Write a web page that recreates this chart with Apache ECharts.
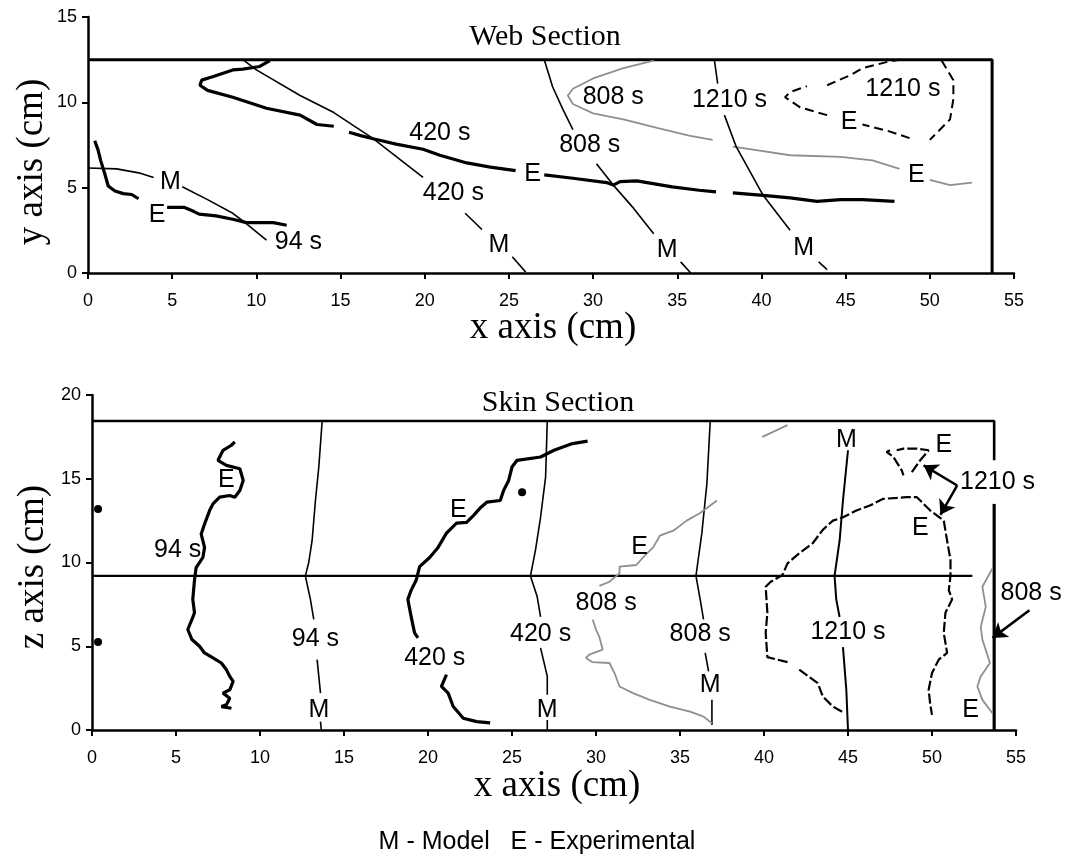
<!DOCTYPE html>
<html>
<head>
<meta charset="utf-8">
<script src="https://cdn.jsdelivr.net/npm/echarts@6/dist/echarts.min.js"></script>
<style>html,body{margin:0;padding:0;background:#fff}#c{width:1067px;height:854px}</style>
</head>
<body>
<div id="c"></div>
<script>
// ---------- axis ticks ----------
const xTicks = [0,5,10,15,20,25,30,35,40,45,50,55];
const yTicksWeb = [0,5,10,15];
const zTicksSkin = [0,5,10,15,20];

// ---------- Web section (x, y) ----------
const webBox = [[0,12.5],[53.7,12.5],[53.7,0]];
const m94Web = [[0,6.15],[1.7,6.1],[3.1,5.85],[3.9,5.6],null,[5.6,5.05],[7.1,4.3],[8.6,3.5],[9.4,2.9],[10.6,1.93]];
const e94Web = [[0.4,7.75],[0.6,7.2],[0.75,6.6],[1.0,5.8],[1.2,5.1],[1.6,4.8],[2.1,4.65],[2.6,4.6],[3.0,4.35],null,
  [4.7,3.85],[5.7,3.85],[6.3,3.6],[6.6,3.45],[7.6,3.35],[8.6,3.15],[9.4,2.95],[10.2,2.95],[11.0,2.95],[11.8,2.8]];
const e420Web = [[10.8,12.45],[10.2,12.1],[9.2,11.95],[8.6,11.9],[7.4,11.5],[6.75,11.3],[6.65,11.0],[7.1,10.7],[8.6,10.3],
  [10.6,9.65],[12.6,9.25],[13.6,8.7],[14.6,8.6],null,
  [15.5,8.25],[16.2,8.05],[17.0,7.85],[18.3,7.55],[19.9,7.25],[20.9,6.9],[22.5,6.45],[23.9,6.2],[25.4,6.0],null,
  [27.1,5.75],[28.8,5.55],[30.8,5.3],[31.2,5.15],[31.6,5.35],[32.6,5.4],[34.7,5.05],[36.3,4.85],[37.3,4.75],null,
  [38.3,4.7],[40.1,4.55],[41.7,4.4],[43.3,4.2],[44.7,4.3],[46.0,4.3],[47.9,4.2]];
const m420Web = [[9.2,12.5],[10.0,11.9],[12.6,10.4],[14.6,9.4],[16.9,7.9],[19.9,5.6],null,[22.4,3.5],[23.4,2.55],null,[25.2,0.95],[26.0,0.05]];
const m808Web = [[27.1,12.5],[27.6,10.9],[28.2,9.6],[28.8,8.4],null,[30.2,6.4],[31.2,5.15],[32.4,3.8],[33.6,2.3],null,[35.2,0.65],[35.8,0.0]];
const e808Web = [[33.6,12.45],[31.8,12.0],[30.0,11.4],[28.8,10.8],[28.5,10.4],[28.8,9.9],[30.0,9.35],[31.8,9.0],[33.8,8.5],[35.7,8.05],[37.1,7.8],null,
  [38.3,7.4],[39.7,7.2],[41.7,6.9],[44.7,6.8],[46.6,6.6],[48.2,6.1],null,[50.0,5.45],[51.2,5.15],[52.5,5.3]];
const m1210Web = [[37.2,12.5],[37.4,11.1],null,[37.8,9.25],[38.5,7.4],[40.1,4.55],[41.7,2.5],null,[43.4,0.65],[43.9,0.2]];
const e1210Web = [[48.8,7.9],[47.6,8.3],[46.0,8.7],null,[43.9,9.25],[42.3,9.7],[41.4,10.3],[41.7,10.6],[42.7,10.95],null,
  [43.9,11.0],[45.3,11.6],[46.0,12.0],[47.6,12.4],[48.2,12.5],null,
  [50.7,12.45],[51.4,11.3],[51.4,10.2],[51.2,9.0],[50.4,8.2],[50.0,7.8]];
const webLabels = [[4.9,5.3,'M'],[4.1,3.4,'E'],[12.5,1.8,'94 s'],[20.9,8.2,'420 s'],[21.7,4.7,'420 s'],[26.4,5.8,'E'],
  [24.4,1.65,'M'],[31.2,10.3,'808 s'],[29.8,7.5,'808 s'],[34.4,1.35,'M'],[38.1,10.15,'1210 s'],[48.4,10.8,'1210 s'],
  [45.2,8.85,'E'],[49.2,5.75,'E'],[42.5,1.45,'M']];

// ---------- Skin section (x, z) ----------
const skinBoxTop = [[0,18.45],[53.7,18.45],[53.7,16.1]];
const skinBoxRight = [[53.7,13.5],[53.7,0]];
const skinMid = [[0,9.2],[52.4,9.2]];
const m94Skin = [[13.7,18.45],[13.5,15.7],[13.3,13.7],[13.1,11.3],[12.9,10.0],[12.7,9.2],[13.0,7.8],[13.2,6.6],null,[13.4,4.2],[13.6,2.2],null,[13.6,0.5],[13.65,0]];
const e94Skin = [[8.5,17.2],[8.3,17.0],[7.8,16.7],[7.5,16.1],[8.0,15.8],[8.8,15.6],[9.0,14.9],[8.8,14.3],[8.5,13.9],[8.2,14.0],[7.6,13.9],
  [7.2,13.5],[7.0,13.1],[6.7,12.3],[6.5,11.7],[6.7,10.9],[6.6,10.3],[6.2,9.7],[6.1,8.95],[6.0,7.8],[6.1,7.0],[5.95,6.6],[5.7,6.0],
  [5.95,5.4],[6.4,5.0],[6.7,4.6],[7.2,4.3],[7.7,4.0],[8.0,3.6],[8.2,3.2],[8.4,2.9],[8.2,2.4],[7.8,2.2],[8.2,1.9],[8.0,1.5],[7.7,1.4],[8.3,1.3]];
const m420Skin = [[27.1,18.45],[27.0,15.1],[26.7,12.7],[26.4,10.75],[26.1,9.2],[26.5,7.95],[26.7,6.75],null,[26.7,4.9],[27.1,3.2],[27.1,2.1],null,[27.1,0.6],[27.1,0]];
const e420Skin = [[29.5,17.25],[28.6,17.1],[27.5,16.7],[26.7,16.3],[25.3,16.1],[25.0,15.7],[24.8,14.9],[24.5,14.3],[24.3,13.7],[23.5,13.6],
  [23.1,13.25],[22.7,12.8],[22.3,12.4],[21.7,12.35],[21.1,11.75],[20.6,10.9],[20.1,10.3],[19.5,9.75],[19.3,8.95],[19.0,8.35],[18.8,7.8],
  [19.0,6.75],[19.2,5.8],[19.4,5.5],null,[21.1,3.3],[20.8,2.6],[21.2,2.2],[21.5,1.4],[22.1,0.7],[22.9,0.5],[23.7,0.42]];
const m808Skin = [[36.8,18.45],[36.6,14.7],[36.3,11.75],[35.95,9.2],[36.2,7.8],[36.4,6.6],null,[36.5,4.6],[36.7,3.5],null,[36.9,1.8],[36.9,0.3]];
const e808Skin = [[30.2,8.6],[30.8,8.85],[31.4,9.35],[31.4,9.75],[32.4,9.85],[32.8,10.3],[33.4,10.9],[33.8,11.6],[34.6,11.9],[35.4,12.5],[36.2,12.95],[37.2,13.7],null,
  [39.9,17.5],[41.4,18.2],null,
  [29.8,6.6],[30.0,6.0],[30.2,5.55],[30.4,4.8],[29.6,4.5],[29.4,4.3],[29.8,4.05],[30.8,4.0],[31.1,3.4],[31.4,2.6],[32.2,2.2],[33.2,1.8],[34.4,1.4],[35.6,1.1],[36.4,0.8],[36.9,0.4]];
const e808Edge = [[53.6,9.65],[53.0,8.55],[53.2,7.35],[52.9,6.15],[53.0,5.4],[53.45,4.0],[52.9,3.2],[52.7,2.6],[53.0,1.8],[53.6,1.0]];
const m1210Skin = [[45.0,16.7],[44.7,13.7],[44.5,11.3],[44.2,9.2],[44.3,7.8],[44.5,6.75],null,[44.7,4.95],[44.9,2.4],[45.0,0]];
const e1210Skin = [[41.4,4.05],[40.2,4.35],[40.1,5.8],[40.2,7.0],[40.1,8.55],[40.4,8.85],[41.1,9.25],[41.4,9.95],[42.1,10.55],[42.9,11.15],
  [43.5,11.95],[44.1,12.5],[44.7,12.7],[45.5,13.1],[46.3,13.4],[47.1,13.8],[48.5,13.9],[49.1,13.9],[49.5,13.5],[49.9,13.1],[50.3,12.8],
  [50.7,12.5],[50.9,11.3],[51.1,10.15],[51.1,9.2],[51.0,8.35],[51.2,7.8],[50.8,7.0],[50.7,5.8],[50.9,4.6],[50.4,4.2],[50.0,3.4],[49.8,2.4],
  [49.9,1.5],[50.0,0.9],null,[42.1,3.6],[43.2,2.8],[43.5,2.0],[44.1,1.4],[44.8,1.0],null,
  [47.5,16.7],[47.3,16.6],[47.7,16.3],[48.2,15.5],[48.3,15.2],null,[48.8,15.4],[49.3,16.1],[49.8,16.7],[49.1,16.8],[48.3,16.8],[47.9,16.7]];
const skinDots = [[0.36,13.2],[0.36,5.25],[25.6,14.2]];
const skinArrows = [[[51.5,14.6],[49.5,15.8]],[[51.5,14.6],[50.5,12.85]],[[55.8,7.15],[53.6,5.5]]];
const skinLabels = [[8.0,14.9,'E'],[5.1,10.75,'94 s'],[13.3,5.4,'94 s'],[13.5,1.2,'M'],[21.8,13.1,'E'],[20.4,4.3,'420 s'],
  [26.7,5.7,'420 s'],[27.1,1.2,'M'],[32.6,10.9,'E'],[30.6,7.6,'808 s'],[36.2,5.7,'808 s'],[36.8,2.7,'M'],[44.9,17.3,'M'],
  [45.0,5.85,'1210 s'],[50.7,17.0,'E'],[53.9,14.8,'1210 s'],[49.3,12.05,'E'],[55.9,8.2,'808 s'],[52.3,1.2,'E']];

// ---------- build ----------
const SANS = '"Liberation Sans", Arial, sans-serif';
const SERIF = '"Liberation Serif", "Times New Roman", serif';
const series = [];
function addCurve(arr, g, style) {
  let seg = [];
  const flush = () => { if (seg.length > 1) series.push({
    type: 'line', xAxisIndex: g, yAxisIndex: g, data: seg, symbol: 'none', showSymbol: false,
    lineStyle: Object.assign({ color: '#000', width: 1.5, opacity: 1 }, style), silent: true, animation: false, clip: false, z: 3
  }); seg = []; };
  arr.forEach(p => { if (p === null) flush(); else seg.push(p); });
  flush();
}
const MODEL = { width: 1.6 };
const EXP = { width: 3.2 };
const GRAY = { color: '#8f8f8f', width: 1.8 };
const DASH = { width: 2, type: [9, 5] };

addCurve(webBox, 0, { width: 3 });
addCurve(m94Web, 0, MODEL); addCurve(e94Web, 0, EXP);
addCurve(m420Web, 0, MODEL); addCurve(e420Web, 0, EXP);
addCurve(m808Web, 0, MODEL); addCurve(e808Web, 0, GRAY);
addCurve(m1210Web, 0, MODEL); addCurve(e1210Web, 0, DASH);

addCurve(skinBoxTop, 1, { width: 2.6 });
addCurve(skinBoxRight, 1, { width: 3.2 });
addCurve(skinMid, 1, { width: 2.2 });
addCurve(m94Skin, 1, MODEL); addCurve(e94Skin, 1, EXP);
addCurve(m420Skin, 1, MODEL); addCurve(e420Skin, 1, EXP);
addCurve(m808Skin, 1, MODEL); addCurve(e808Skin, 1, GRAY); addCurve(e808Edge, 1, GRAY);
addCurve(m1210Skin, 1, { width: 2 }); addCurve(e1210Skin, 1, { width: 2.2, type: [10, 3] });

function addLabels(arr, g) {
  series.push({
    type: 'scatter', xAxisIndex: g, yAxisIndex: g, data: arr, symbolSize: 0, clip: false, silent: true, animation: false, z: 5,
    itemStyle: { opacity: 1 },
    label: { show: true, position: 'inside', formatter: p => p.data[2], color: '#000', fontSize: 25, fontFamily: SANS,
      textBorderWidth: 0, opacity: 1 }
  });
}
addLabels(webLabels, 0);
addLabels(skinLabels, 1);
series.push({ type: 'scatter', xAxisIndex: 1, yAxisIndex: 1, data: skinDots, symbolSize: 8,
  itemStyle: { color: '#000', opacity: 1 }, clip: false, silent: true, animation: false });
series.push({ type: 'lines', coordinateSystem: 'cartesian2d', xAxisIndex: 1, yAxisIndex: 1, clip: false, silent: true,
  animation: false, symbol: ['none', 'arrow'], symbolSize: 14,
  lineStyle: { color: '#000', width: 2.5, opacity: 1, curveness: 0 },
  data: skinArrows.map(c => ({ coords: c })) });

function xAx(g) {
  return { type: 'value', gridIndex: g, min: xTicks[0], max: xTicks[xTicks.length - 1], interval: 5,
    axisLine: { show: true, onZero: false, lineStyle: { color: '#000', width: 2.5 } },
    axisTick: { show: true, length: 6, lineStyle: { color: '#000', width: 2 } },
    axisLabel: { color: '#000', fontSize: 18, fontFamily: SANS, margin: 19 },
    splitLine: { show: false } };
}
function yAx(g, ticks) {
  return { type: 'value', gridIndex: g, min: ticks[0], max: ticks[ticks.length - 1], interval: 5,
    axisLine: { show: true, onZero: false, lineStyle: { color: '#000', width: 2.5 } },
    axisTick: { show: true, length: 6, lineStyle: { color: '#000', width: 2 } },
    axisLabel: { color: '#000', fontSize: 18, fontFamily: SANS, margin: 11 },
    splitLine: { show: false } };
}

const chart = echarts.init(document.getElementById('c'), null, { renderer: 'canvas' });
chart.setOption({
  backgroundColor: '#fff',
  animation: false,
  grid: [
    { left: 88, top: 17, width: 926, height: 256, containLabel: false, outerBoundsMode: 'none' },
    { left: 92, top: 395, width: 924, height: 335, containLabel: false, outerBoundsMode: 'none' }
  ],
  xAxis: [xAx(0), xAx(1)],
  yAxis: [yAx(0, yTicksWeb), yAx(1, zTicksSkin)],
  series: series,
  graphic: [
    { type: 'text', x: 545, y: 37, style: { text: 'Web Section', fontSize: 30, fontFamily: SERIF, fill: '#000', align: 'center', verticalAlign: 'middle' } },
    { type: 'text', x: 558, y: 403, style: { text: 'Skin Section', fontSize: 30, fontFamily: SERIF, fill: '#000', align: 'center', verticalAlign: 'middle' } },
    { type: 'text', x: 553, y: 328, style: { text: 'x axis (cm)', fontSize: 37, fontFamily: SERIF, fill: '#000', align: 'center', verticalAlign: 'middle' } },
    { type: 'text', x: 557, y: 786, style: { text: 'x axis (cm)', fontSize: 37, fontFamily: SERIF, fill: '#000', align: 'center', verticalAlign: 'middle' } },
    { type: 'text', x: 32, y: 162, rotation: Math.PI / 2, style: { text: 'y axis (cm)', fontSize: 37, fontFamily: SERIF, fill: '#000', align: 'center', verticalAlign: 'middle' } },
    { type: 'text', x: 33, y: 567, rotation: Math.PI / 2, style: { text: 'z axis (cm)', fontSize: 37, fontFamily: SERIF, fill: '#000', align: 'center', verticalAlign: 'middle' } },
    { type: 'text', x: 537, y: 842, style: { text: 'M - Model   E - Experimental', fontSize: 25, fontFamily: SANS, fill: '#000', align: 'center', verticalAlign: 'middle' } }
  ]
});
</script>
</body>
</html>
